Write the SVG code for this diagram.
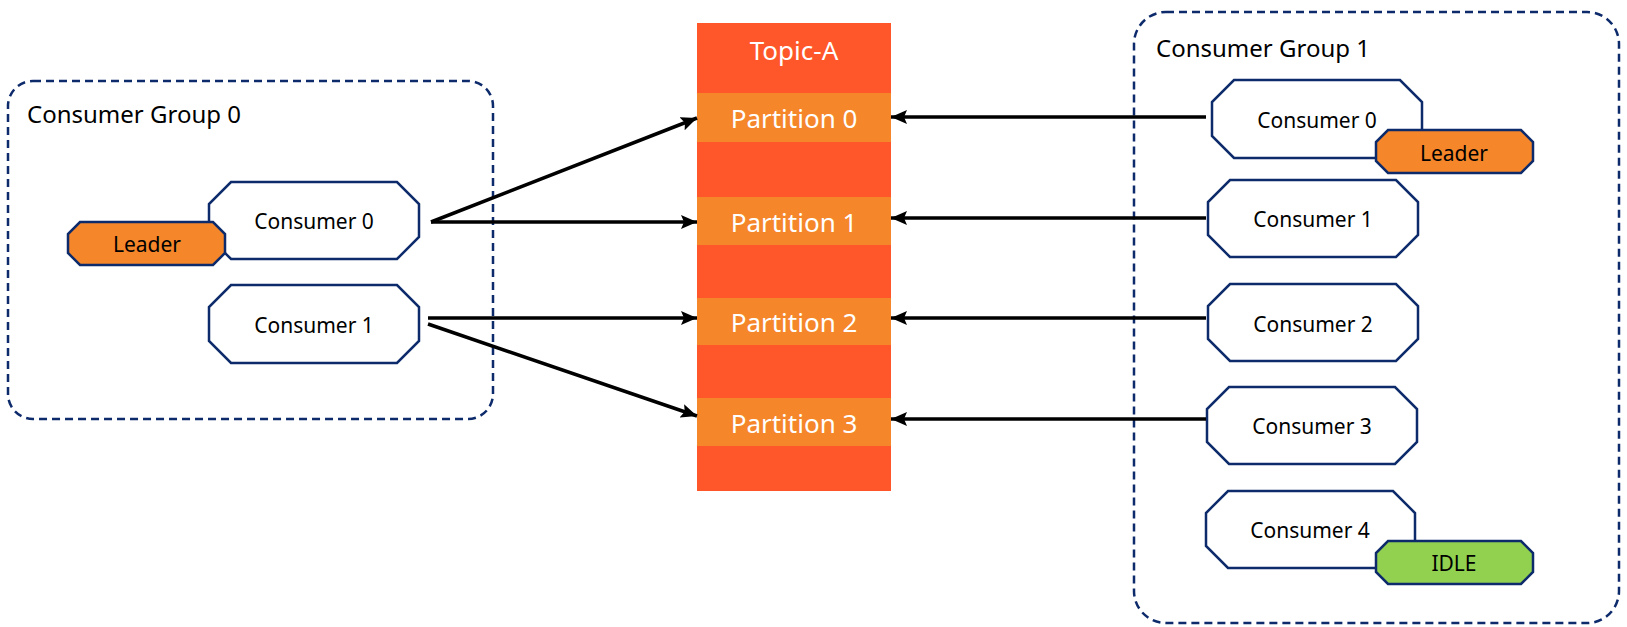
<svg xmlns="http://www.w3.org/2000/svg" width="1627" height="627" viewBox="0 0 1627 627">
<style>
text{font-family:"Noto Sans","Open Sans","Liberation Sans",sans-serif;}
.grp{fill:none;stroke:#0D2A6B;stroke-width:2.5;stroke-dasharray:8 5;}
.gt{font-size:24px;fill:#000;}
.node{fill:#fff;stroke:#0D2A6B;stroke-width:2.5;}
.nt{font-size:21px;fill:#000;text-anchor:middle;}
.lead{fill:#F5862A;stroke:#0D2A6B;stroke-width:2.5;}
.idle{fill:#92D050;stroke:#0D2A6B;stroke-width:2.5;}
.topic{fill:#FF5729;}
.part{fill:#F5862A;}
.pt{font-size:26px;fill:#fff;text-anchor:middle;}
.conn{stroke:#000;stroke-width:3.5;fill:none;marker-end:url(#arr);}
</style>
<defs>
<marker id="arr" markerUnits="userSpaceOnUse" markerWidth="17" markerHeight="14" refX="16" refY="7" orient="auto">
<path d="M0,0 L16,7 L0,14 L3,7 Z" fill="#000"/>
</marker>
</defs>
<g id="group0">
<rect class="grp" x="8" y="81" width="485" height="338" rx="25" ry="25"/>
<text class="gt" x="27" y="123">Consumer Group 0</text>
</g>
<g id="group1">
<rect class="grp" x="1134" y="12" width="485" height="611" rx="32" ry="32"/>
<text class="gt" x="1156" y="57">Consumer Group 1</text>
</g>
<g id="topic">
<rect class="topic" x="697" y="23" width="194" height="468"/>
<text class="pt" x="794" y="60">Topic-A</text>
</g>
<g id="partition0"><rect class="part" x="697" y="93" width="194" height="49"/><text class="pt" x="794" y="128">Partition 0</text></g>
<g id="partition1"><rect class="part" x="697" y="197" width="194" height="48"/><text class="pt" x="794" y="232">Partition 1</text></g>
<g id="partition2"><rect class="part" x="697" y="298" width="194" height="47"/><text class="pt" x="794" y="332">Partition 2</text></g>
<g id="partition3"><rect class="part" x="697" y="398" width="194" height="48"/><text class="pt" x="794" y="433">Partition 3</text></g>
<g id="g0-consumer0">
<path class="node" d="M231,182 H397 L419,204 V237 L397,259 H231 L209,237 V204 Z"/>
<text class="nt" x="314" y="229">Consumer 0</text>
</g>
<g id="g0-leader">
<path class="lead" d="M80,222 H213 L225,234 V253 L213,265 H80 L68,253 V234 Z"/>
<text class="nt" x="147" y="252">Leader</text>
</g>
<g id="g0-consumer1">
<path class="node" d="M231,285 H397 L419,307 V341 L397,363 H231 L209,341 V307 Z"/>
<text class="nt" x="314" y="333">Consumer 1</text>
</g>
<g id="g1-consumer0">
<path class="node" d="M1234,80 H1400 L1422,102 V136 L1400,158 H1234 L1212,136 V102 Z"/>
<text class="nt" x="1317" y="128">Consumer 0</text>
</g>
<g id="g1-leader">
<path class="lead" d="M1388,130 H1521 L1533,142 V161 L1521,173 H1388 L1376,161 V142 Z"/>
<text class="nt" x="1454" y="161">Leader</text>
</g>
<g id="g1-consumer1">
<path class="node" d="M1230,180 H1396 L1418,202 V235 L1396,257 H1230 L1208,235 V202 Z"/>
<text class="nt" x="1313" y="227">Consumer 1</text>
</g>
<g id="g1-consumer2">
<path class="node" d="M1230,284 H1396 L1418,306 V339 L1396,361 H1230 L1208,339 V306 Z"/>
<text class="nt" x="1313" y="332">Consumer 2</text>
</g>
<g id="g1-consumer3">
<path class="node" d="M1229,387 H1395 L1417,409 V442 L1395,464 H1229 L1207,442 V409 Z"/>
<text class="nt" x="1312" y="434">Consumer 3</text>
</g>
<g id="g1-consumer4">
<path class="node" d="M1228,491 H1393 L1415,513 V546 L1393,568 H1228 L1206,546 V513 Z"/>
<text class="nt" x="1310" y="538">Consumer 4</text>
</g>
<g id="g1-idle">
<path class="idle" d="M1388,541 H1521 L1533,553 V572 L1521,584 H1388 L1376,572 V553 Z"/>
<text class="nt" x="1454" y="571">IDLE</text>
</g>
<g id="connectors">
<line class="conn" x1="431" y1="222" x2="697" y2="118"/>
<line class="conn" x1="431" y1="222" x2="697" y2="222"/>
<line class="conn" x1="428" y1="318" x2="697" y2="318"/>
<line class="conn" x1="428" y1="324" x2="697" y2="416"/>
<line class="conn" x1="1206" y1="117" x2="891" y2="117"/>
<line class="conn" x1="1206" y1="218" x2="891" y2="218"/>
<line class="conn" x1="1206" y1="318" x2="891" y2="318"/>
<line class="conn" x1="1206" y1="419" x2="891" y2="419"/>
</g>
</svg>
